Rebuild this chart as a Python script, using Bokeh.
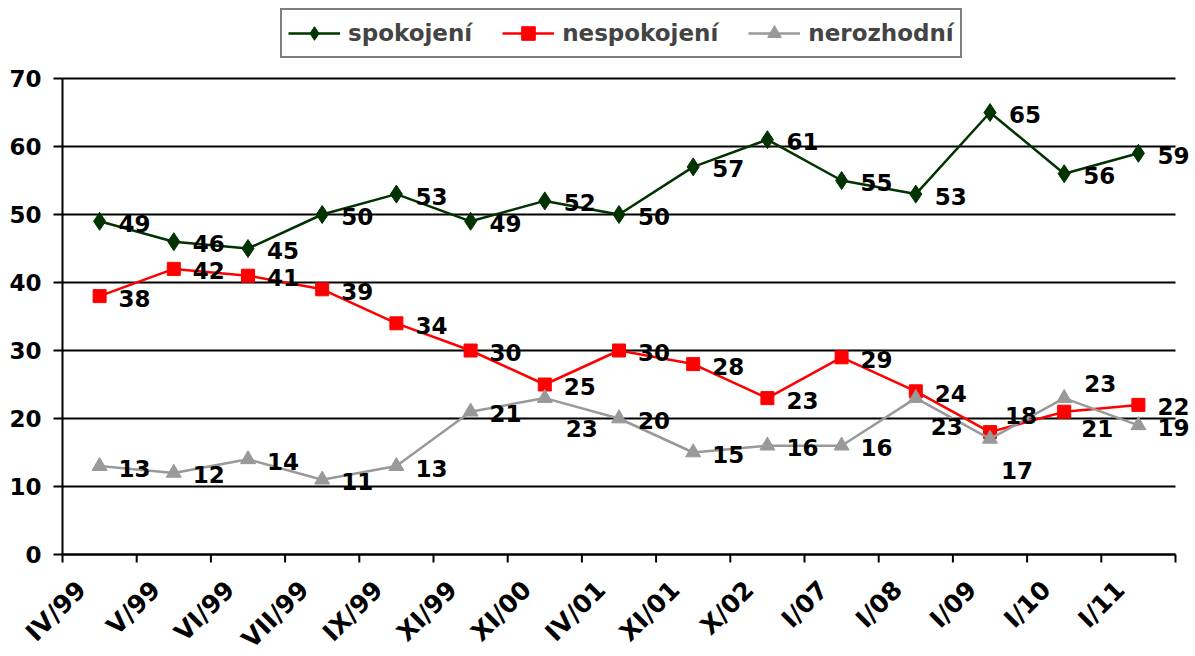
import math
from bokeh.plotting import figure
from bokeh.models import (ColumnDataSource, Range1d, LabelSet, Legend,
                          LegendItem)
from bokeh.core.properties import value
from bokeh.embed import file_html
from bokeh.resources import INLINE

categories = ["IV/99", "V/99", "VI/99", "VII/99", "IX/99", "XI/99", "XI/00",
              "IV/01", "XI/01", "X/02", "I/07", "I/08", "I/09", "I/10", "I/11"]
spokojeni = [49, 46, 45, 50, 53, 49, 52, 50, 57, 61, 55, 53, 65, 56, 59]
nespokojeni = [38, 42, 41, 39, 34, 30, 25, 30, 28, 23, 29, 24, 18, 21, 22]
nerozhodni = [13, 12, 14, 11, 13, 21, 23, 20, 15, 16, 16, 23, 17, 23, 19]
y_ticks = [0, 10, 20, 30, 40, 50, 60, 70]
Y_MAX = 70

# label offsets (screen px: dx right, dy down) -- styling only
off_sp = [(19, 2)] * 15
off_ne = [(19, 2)] * 15
off_ne[12] = (15, -17)   # 18
off_ne[13] = (17, 17)    # 21
off_nr = [(19, 2)] * 15
off_nr[6] = (21, 30)     # 23 at XI/00
off_nr[11] = (15, 28)    # 23 at I/08
off_nr[12] = (11, 32)    # 17 at I/09
off_nr[13] = (20, -15)   # 23 at I/10

FONT = "DejaVu Sans"
FS = "23px"
n = len(categories)
xs = [i + 0.5 for i in range(n)]

# geometry (px in the picture): plot area 62..1175 x 78..554
W, H = 1195, 656
PL, PR, PT, PB = 62, 1175, 78, 554
px_x = (PR - PL) / n
px_y = (PB - PT) / Y_MAX
x_start = -PL / px_x
x_end = n + (W - PR) / px_x
y_start = -(H - PB) / px_y
y_end = Y_MAX + PT / px_y

p = figure(width=W, height=H, output_backend="svg", toolbar_location=None,
           x_range=Range1d(x_start, x_end), y_range=Range1d(y_start, y_end),
           min_border=0, x_axis_location=None, y_axis_location=None)
p.outline_line_color = None
p.background_fill_color = "white"
p.border_fill_color = "white"
p.xgrid.grid_line_color = None
p.ygrid.grid_line_color = None

lbl = dict(text_font=value(FONT), text_font_style=value("bold"),
           text_color="black")

# horizontal gridlines across the plot area
k = len(y_ticks)
p.segment(x0=[0] * k, x1=[n] * k, y0=y_ticks, y1=y_ticks,
          line_color="black", line_width=2)

# value axis: line, ticks, labels
p.segment(x0=[0], x1=[0], y0=[0], y1=[Y_MAX], line_color="black", line_width=2)
p.segment(x0=[0] * k, x1=[-9 / px_x] * k, y0=y_ticks, y1=y_ticks,
          line_color="black", line_width=2)
ysrc = ColumnDataSource(dict(x=[0] * k, y=y_ticks, t=[str(v) for v in y_ticks]))
p.add_layout(LabelSet(x="x", y="y", text="t", source=ysrc, x_offset=-21,
                      y_offset=0, text_align="right", text_baseline="middle",
                      text_font_size=value(FS), **lbl))

# category axis: line, tick marks at category boundaries, rotated labels
bounds = list(range(n + 1))
p.segment(x0=[0], x1=[n], y0=[0], y1=[0], line_color="black", line_width=2)
p.segment(x0=bounds, x1=bounds, y0=[0] * len(bounds),
          y1=[-8 / px_y] * len(bounds), line_color="black", line_width=2)
cat_src = ColumnDataSource(dict(x=xs, y=[0] * n, t=categories))
p.add_layout(LabelSet(x="x", y="y", text="t", source=cat_src, angle=math.pi / 4,
                      x_offset=-18, y_offset=-31, text_align="right",
                      text_baseline="middle", text_font_size=value("25px"),
                      **lbl))

series = [
    ("spokojení", spokojeni, "#003300", "diamond", 18, off_sp),
    ("nespokojení", nespokojeni, "#FF0000", "square", 13, off_ne),
    ("nerozhodní", nerozhodni, "#999999", "triangle", 15, off_nr),
]
items = []
for name, vals, col, mk, sz, offs in series:
    src = ColumnDataSource(dict(x=xs, y=vals, t=[str(v) for v in vals],
                                dx=[o[0] for o in offs],
                                dy=[-o[1] for o in offs]))
    lr = p.line("x", "y", source=src, line_color=col, line_width=2.5)
    sr = p.scatter("x", "y", source=src, marker=mk, size=sz, fill_color=col,
                   line_color=col)
    items.append(LegendItem(label=name, renderers=[lr, sr]))
    p.add_layout(LabelSet(x="x", y="y", text="t", source=src, x_offset="dx",
                          y_offset="dy", text_align="left",
                          text_baseline="middle", text_font_size=value(FS),
                          **lbl))

legend = Legend(items=items, orientation="horizontal",
                location=(280, H - 58),
                border_line_color="black", border_line_width=2,
                label_text_font=FONT, label_text_font_style="bold",
                label_text_font_size=FS, glyph_width=52, glyph_height=34,
                label_standoff=8, spacing=30, padding=6, margin=0,
                background_fill_alpha=1)
p.add_layout(legend)

open("out.html", "w").write(file_html(p, INLINE))
